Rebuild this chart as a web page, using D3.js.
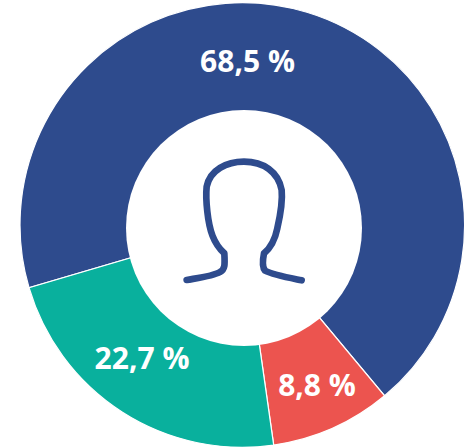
<!DOCTYPE html>
<html><head><meta charset="utf-8">
<script src="https://cdn.jsdelivr.net/npm/d3@7"></script>
<style>html,body{margin:0;padding:0;background:#fff}svg{display:block}</style>
</head><body>
<svg id="c" width="468" height="447"></svg>
<script>
const categories = ["a","b","c"];
const values = [68.5, 8.8, 22.7];
const labels = ["68,5 %","8,8 %","22,7 %"];
const colors = ["#2e4b8d","#ec544f","#09b09d"];
const labelPos = [[247.5,61],[317,385],[142,358]];
const startAngle = 253.6*Math.PI/180;

const svg = d3.select("#c");
const g = svg.append("g").attr("transform","translate(242.3,225)");
const pie = d3.pie().sort(null).startAngle(startAngle).endAngle(startAngle+2*Math.PI)(values);
const arc = d3.arc().innerRadius(0).outerRadius(222.3);
g.selectAll("path").data(pie).join("path")
  .attr("d",arc).attr("fill",(d,i)=>colors[i]).attr("stroke","#fff").attr("stroke-width",1.2);
svg.append("circle").attr("cx",244).attr("cy",228).attr("r",118).attr("fill","#fff");
svg.append("path")
  .attr("transform","translate(170,140) scale(0.3333)")
  .attr("d","M50 420 C90 413 130 408 150 396 C165 388 165 375 163 340 C130 310 118 270 112 215 C108 180 108 160 110 140 C120 90 170 65 222 65 C280 65 325 95 335 150 C338 180 330 230 322 265 C315 300 300 325 282 340 C278 360 275 380 285 392 C310 405 350 412 395 421")
  .attr("fill","none").attr("stroke","#2e4b8d").attr("stroke-width",20).attr("stroke-linecap","round").attr("stroke-linejoin","round");
svg.selectAll("text").data(labels).join("text")
  .attr("x",(d,i)=>labelPos[i][0]).attr("y",(d,i)=>labelPos[i][1]).attr("dy","0.36em")
  .attr("text-anchor","middle").attr("fill","#fff")
  .attr("font-family","'Open Sans'").attr("font-weight",700).attr("font-size",30)
  .text(d=>d);
</script>
</body></html>
